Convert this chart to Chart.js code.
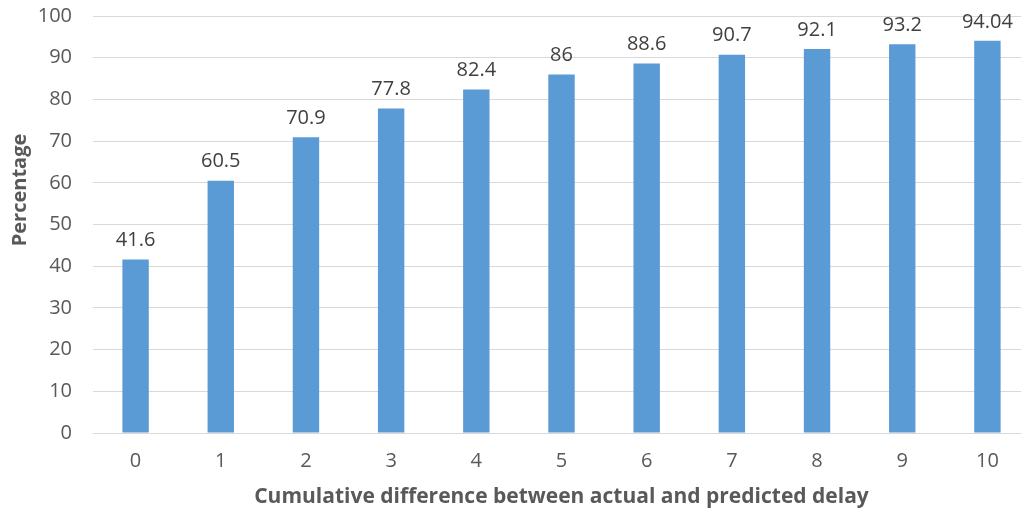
<!DOCTYPE html>
<html>
<head>
<meta charset="utf-8">
<script src="https://cdn.jsdelivr.net/npm/chart.js@4.4.1/dist/chart.umd.min.js"></script>
<style>
  html, body { margin: 0; padding: 0; background: #fff; overflow: hidden; }
  #wrap { width: 1035px; height: 510px; position: relative; }
</style>
</head>
<body>
<div id="wrap"><canvas id="c"></canvas></div>
<script>
// Cumulative share of predictions within a given delay difference
const categories = ['0', '1', '2', '3', '4', '5', '6', '7', '8', '9', '10'];
const percentages = [41.6, 60.5, 70.9, 77.8, 82.4, 86, 88.6, 90.7, 92.1, 93.2, 94.04];
const valueLabels = ['41.6', '60.5', '70.9', '77.8', '82.4', '86', '88.6', '90.7', '92.1', '93.2', '94.04'];
const yTicks = [0, 10, 20, 30, 40, 50, 60, 70, 80, 90, 100];

const FONT = "'Open Sans', 'Liberation Sans', sans-serif";
const TEXT = '#595959';

// Value labels above each bar, plus the rotated y-axis title
const barLabels = {
  id: 'barLabels',
  afterDatasetsDraw(chart) {
    const ctx = chart.ctx;
    const meta = chart.getDatasetMeta(0);
    ctx.save();
    ctx.font = '20px ' + FONT;
    ctx.fillStyle = '#404040';
    ctx.textAlign = 'center';
    ctx.textBaseline = 'middle';
    meta.data.forEach((bar, i) => {
      ctx.fillText(valueLabels[i], bar.x, bar.y - 19);
    });
    ctx.translate(20, 190);
    ctx.rotate(-Math.PI / 2);
    ctx.font = 'bold 20px ' + FONT;
    ctx.fillStyle = TEXT;
    ctx.textBaseline = 'middle';
    ctx.fillText('Percentage', 0, 0);
    ctx.restore();
  }
};

new Chart(document.getElementById('c'), {
  type: 'bar',
  data: {
    labels: categories,
    datasets: [{
      data: percentages,
      backgroundColor: '#5B9BD5',
      barPercentage: 0.31,
      categoryPercentage: 1.0
    }]
  },
  options: {
    responsive: true,
    maintainAspectRatio: false,
    animation: false,
    layout: { padding: { top: 16, right: 5, bottom: 0, left: 0 } },
    plugins: { legend: { display: false }, tooltip: { enabled: false } },
    scales: {
      x: {
        grid: { display: false, drawTicks: false },
        border: { display: true, color: '#d9d9d9', width: 1 },
        ticks: { color: TEXT, font: { family: FONT, size: 20 }, padding: 16 },
        title: {
          display: true,
          text: 'Cumulative difference between actual and predicted delay',
          color: TEXT,
          font: { family: FONT, size: 21, weight: 'bold' },
          padding: { top: 4, bottom: 0 }
        },
        afterFit(scale) {
          scale.height = 77;
          scale.paddingLeft = 0;
          scale.paddingRight = 0;
        }
      },
      y: {
        min: 0,
        max: 100,
        afterBuildTicks(scale) { scale.ticks = yTicks.map(v => ({ value: v })); },
        grid: { color: '#d9d9d9', drawTicks: false },
        border: { display: false },
        ticks: { color: TEXT, font: { family: FONT, size: 20 }, padding: 21 },
        afterFit(scale) {
          scale.width = 93;
          scale.paddingTop = 0;
          scale.paddingBottom = 0;
        }
      }
    }
  },
  plugins: [barLabels]
});
</script>
</body>
</html>
